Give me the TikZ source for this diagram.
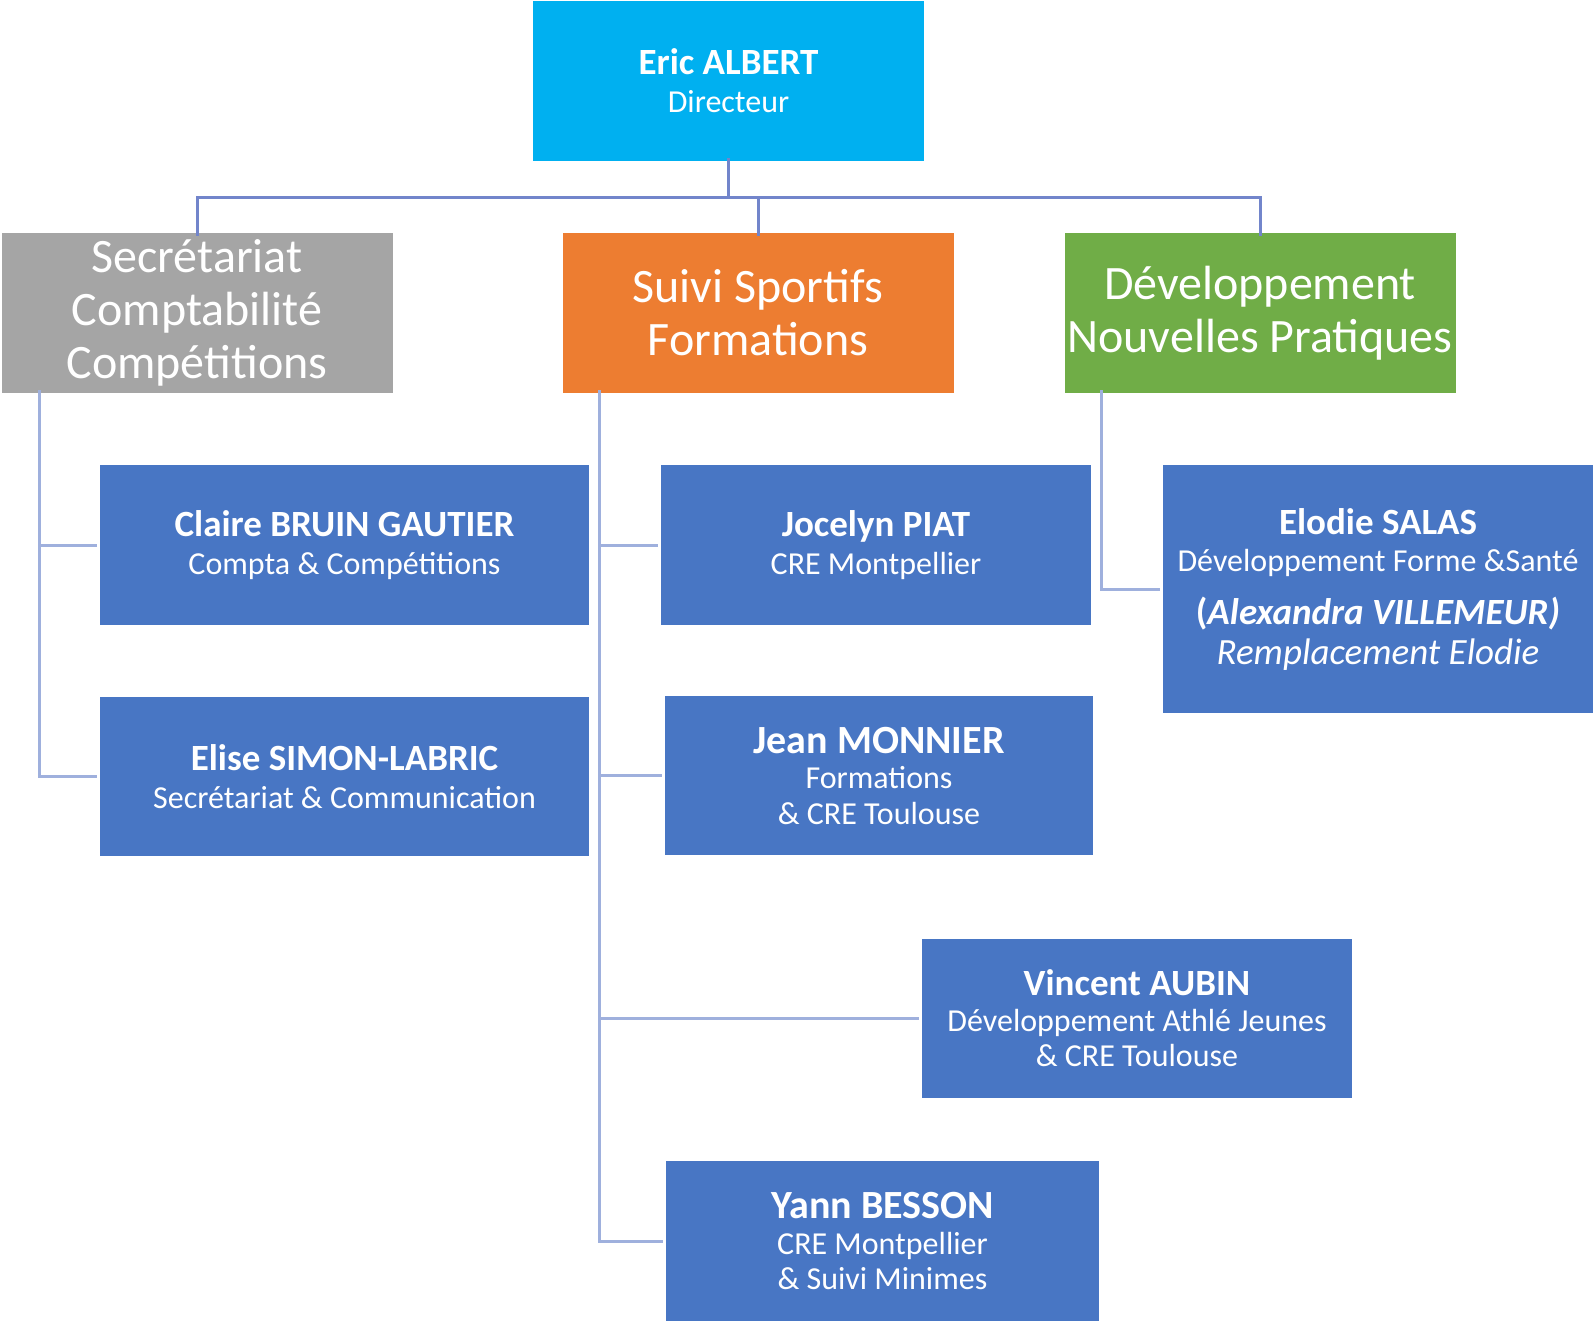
\documentclass[tikz,border=0pt]{standalone}
\usepackage{fontspec}
\setmainfont{Carlito}
\usetikzlibrary{positioning}
\definecolor{chefcyan}{HTML}{00B0F0}
\definecolor{polegris}{HTML}{A5A5A5}
\definecolor{poleorange}{HTML}{ED7D31}
\definecolor{polevert}{HTML}{70AD47}
\definecolor{agentbleu}{HTML}{4876C4}
\definecolor{traithaut}{HTML}{7285CB}
\definecolor{traitbas}{HTML}{9FB0DD}
\newcommand{\nomA}[1]{{\fontsize{37}{38}\bfseries\selectfont #1}}
\newcommand{\nomB}[1]{{\fontsize{40}{38}\bfseries\selectfont #1}}
\begin{document}
\begin{tikzpicture}[x=1pt, y=-1pt,
		boite/.style={rectangle, inner sep=0pt, text=white, align=center, minimum height=160pt},
		pole/.style={boite, minimum width=391pt, font=\fontsize{48}{53}\selectfont},
		agent/.style={boite, fill=agentbleu, font=\fontsize{32}{38}\selectfont},
		agentlong/.style={agent, font=\fontsize{32}{35.5}\selectfont},
		lienhaut/.style={draw=traithaut, line width=3pt},
		lienbas/.style={draw=traitbas, line width=3pt}]
	\useasboundingbox (0,0) rectangle (1593,1320);

	\node[boite, fill=chefcyan, minimum width=391pt, font=\fontsize{32}{38}\selectfont] (eric) at (728.5, 81) {\nomA{Eric ALBERT}\\Directeur};

	\node[pole, fill=polegris] (secr) at (197, 313) {Secrétariat\\Comptabilité\\Compétitions};
	\node[pole, fill=poleorange] (suivi) at (758, 313) {Suivi Sportifs\\Formations};
	\node[pole, fill=polevert] (devel) at (1260, 313) {Développement\\Nouvelles Pratiques};

	\node[agent, minimum width=489pt] (claire) at (344.5, 545) {\nomA{Claire BRUIN GAUTIER}\\Compta \& Compétitions};
	\node[agent, minimum width=489pt, minimum height=159pt] (elise) at (344.5, 776.5) {\nomA{Elise SIMON-LABRIC}\\Secrétariat \& Communication};

	\node[agent, minimum width=430pt] (jocelyn) at (876, 545) {\nomA{Jocelyn PIAT}\\CRE Montpellier};
	\node[agentlong, minimum width=428pt, minimum height=159pt] (jean) at (879, 775.5) {\nomB{Jean MONNIER}\\Formations\\\& CRE Toulouse};
	\node[agentlong, minimum width=430pt, minimum height=159pt] (vincent) at (1137, 1018.5) {\nomA{Vincent AUBIN}\\Développement Athlé Jeunes\\\& CRE Toulouse};
	\node[agentlong, minimum width=433pt] (yann) at (882.5, 1241) {\nomB{Yann BESSON}\\CRE Montpellier\\\& Suivi Minimes};

	\node[agent, minimum width=430pt, minimum height=248pt, font=\fontsize{32}{37}\selectfont] (elodie) at (1378, 589) {\nomA{Elodie SALAS}\\Développement Forme \&Santé\\[16pt]{\fontsize{37}{37}\selectfont\bfseries (\itshape Alexandra VILLEMEUR)}\\[3pt]{\fontsize{37}{37}\selectfont\itshape Remplacement Elodie}};

	\coordinate (bus) at (728.5, 197);
	\draw[lienhaut] ([yshift=3pt]eric.south) -- (bus) -| ([yshift=-3pt]secr.north);
	\draw[lienhaut] (bus) -| ([yshift=-3pt]suivi.north);
	\draw[lienhaut] (bus) -| ([yshift=-3pt]devel.north);

	\draw[lienbas] ([xshift=38pt, yshift=3pt]secr.south west) |- ([xshift=-3pt]claire.west);
	\draw[lienbas] ([xshift=38pt, yshift=3pt]secr.south west) |- ([xshift=-3pt]elise.west);

	\draw[lienbas] ([xshift=37pt, yshift=3pt]suivi.south west) |- ([xshift=-3pt]jocelyn.west);
	\draw[lienbas] ([xshift=37pt, yshift=3pt]suivi.south west) |- ([xshift=-3pt]jean.west);
	\draw[lienbas] ([xshift=37pt, yshift=3pt]suivi.south west) |- ([xshift=-3pt]vincent.west);
	\draw[lienbas] ([xshift=37pt, yshift=3pt]suivi.south west) |- ([xshift=-3pt]yann.west);

	\draw[lienbas] ([xshift=37pt, yshift=3pt]devel.south west) |- ([xshift=-3pt]elodie.west);
\end{tikzpicture}
\end{document}
